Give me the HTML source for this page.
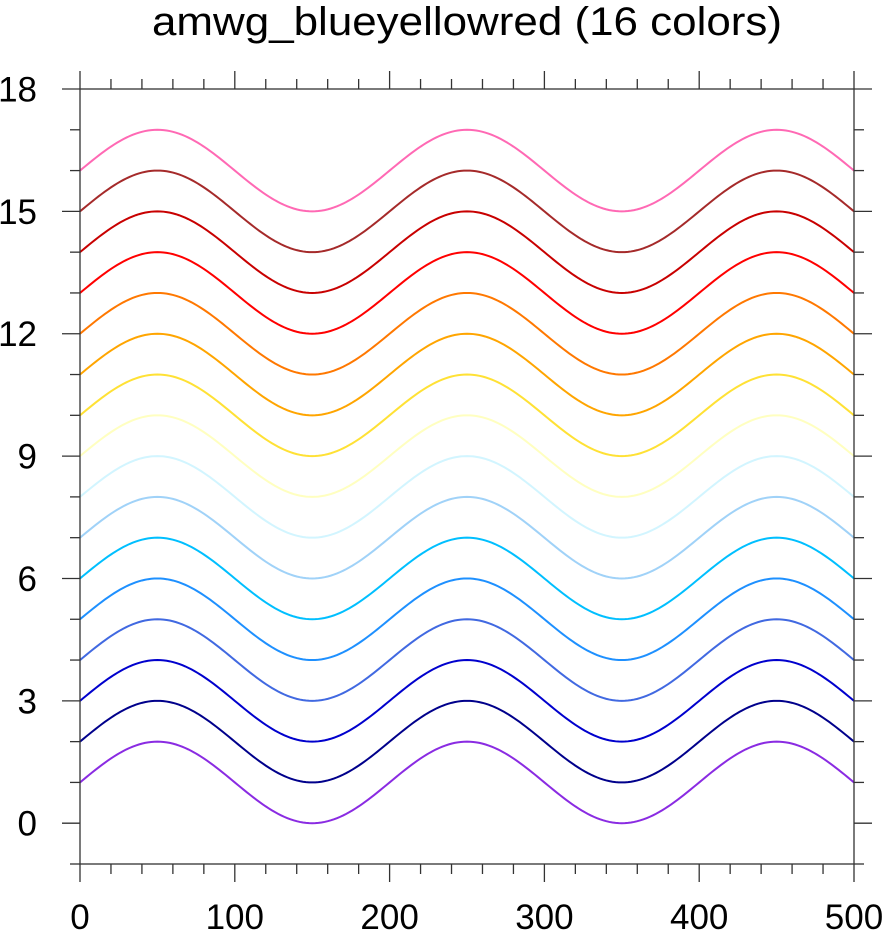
<!DOCTYPE html>
<html><head><meta charset="utf-8"><style>
html,body{margin:0;padding:0;background:#fff;width:884px;height:935px;overflow:hidden}
svg text{font-family:"Liberation Sans",sans-serif;fill:#000}
</style></head><body>
<svg id="s" width="884" height="935" xmlns="http://www.w3.org/2000/svg"></svg>
<script>
const s=document.getElementById('s');
const L=80,R=854,T=89,B=864;
const X=v=>L+v*(R-L)/500, Y=v=>B-(v+1)*(B-T)/19;
let h='';
h+=`<text x="152" y="35" font-size="40" textLength="630" lengthAdjust="spacingAndGlyphs">amwg_blueyellowred (16 colors)</text>`;
const cols=['#8a2be2','#00008b','#0000cd','#4169e1','#1e90ff','#00bfff','#a0d2f8','#d2f5ff','#ffffc0','#ffe135','#ffa500','#ff7800','#ff0000','#c80000','#a52a2a','#ff69b4'];
cols.forEach((c,i)=>{let d='';for(let x=0;x<=500;x+=2){const v=i+1+Math.sin(2*Math.PI*x/200);d+=(x?'L':'M')+X(x).toFixed(2)+' '+Y(v).toFixed(2);}h+=`<path d="${d}" fill="none" stroke="${c}" stroke-width="2"/>`;});
h+=`<rect x="${L}" y="${T}" width="${R-L}" height="${B-T}" fill="none" stroke="#333" stroke-width="1.3"/>`;
for(let x=0;x<=500;x+=20){const M=x%100==0,l=M?18:10,px=X(x);
h+=`<line x1="${px}" y1="${B}" x2="${px}" y2="${B+l}" stroke="#333" stroke-width="1.3"/><line x1="${px}" y1="${T}" x2="${px}" y2="${T-l}" stroke="#333" stroke-width="1.3"/>`;
if(M)h+=`<text x="${px}" y="929" font-size="35" text-anchor="middle">${x}</text>`;}
for(let v=-1;v<=18;v++){const M=v%3==0,l=M?18:10,py=Y(v);
h+=`<line x1="${L}" y1="${py}" x2="${L-l}" y2="${py}" stroke="#333" stroke-width="1.3"/><line x1="${R}" y1="${py}" x2="${R+l}" y2="${py}" stroke="#333" stroke-width="1.3"/>`;
if(M&&v>=0)h+=`<text x="37" y="${py+12.5}" font-size="35" text-anchor="end">${v}</text>`;}
s.innerHTML=h;
</script>
</body></html>
